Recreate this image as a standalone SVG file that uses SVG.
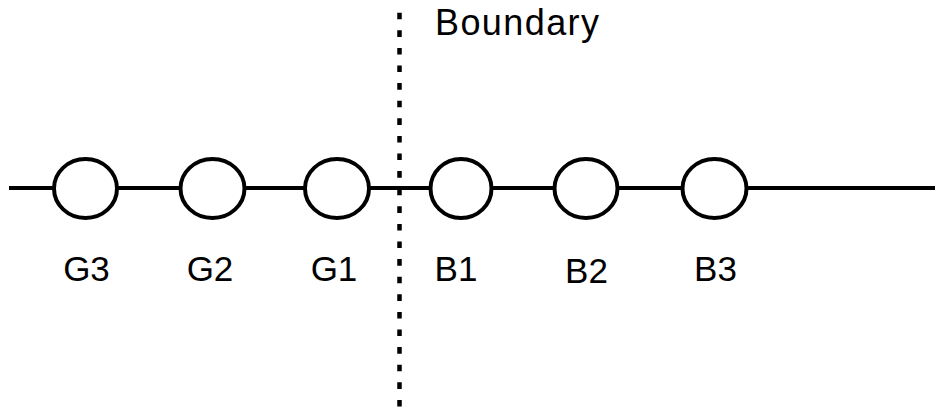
<svg xmlns="http://www.w3.org/2000/svg" width="935" height="410" viewBox="0 0 935 410">
<style>
.node{fill:#fff;stroke:#000;stroke-width:4}
.lbl{font-family:"Liberation Sans",Arial,sans-serif;font-size:35px;fill:#000;text-anchor:middle}
.wire{stroke:#000;stroke-width:4;fill:none}
.bnd{stroke:#000;stroke-width:4.5;stroke-dasharray:6.6 11;fill:none}
</style>
<rect width="935" height="410" fill="#fff"/>
<g id="connectors">
<line class="wire" x1="9" y1="188" x2="935" y2="188"/>
<line class="bnd" x1="399.5" y1="12.7" x2="399.5" y2="410"/>
</g>
<g id="G3"><ellipse class="node" cx="85.5" cy="188.5" rx="31.5" ry="29.5"/><text class="lbl" x="86.5" y="281">G3</text></g>
<g id="G2"><ellipse class="node" cx="212.5" cy="188.5" rx="32" ry="29.5"/><text class="lbl" x="210" y="281">G2</text></g>
<g id="G1"><ellipse class="node" cx="337" cy="188.5" rx="32" ry="29.5"/><text class="lbl" x="334" y="281">G1</text></g>
<g id="B1"><ellipse class="node" cx="461" cy="188.5" rx="30.5" ry="29.5"/><text class="lbl" x="456" y="281">B1</text></g>
<g id="B2"><ellipse class="node" cx="586" cy="188.5" rx="31.5" ry="29.5"/><text class="lbl" x="586.5" y="283">B2</text></g>
<g id="B3"><ellipse class="node" cx="714.5" cy="188.5" rx="32" ry="29.5"/><text class="lbl" x="715.5" y="281">B3</text></g>
<g id="boundary-label"><text x="435" y="35" font-family="Liberation Sans, Arial, sans-serif" font-size="36" textLength="164" lengthAdjust="spacing" fill="#000">Boundary</text></g>
</svg>
